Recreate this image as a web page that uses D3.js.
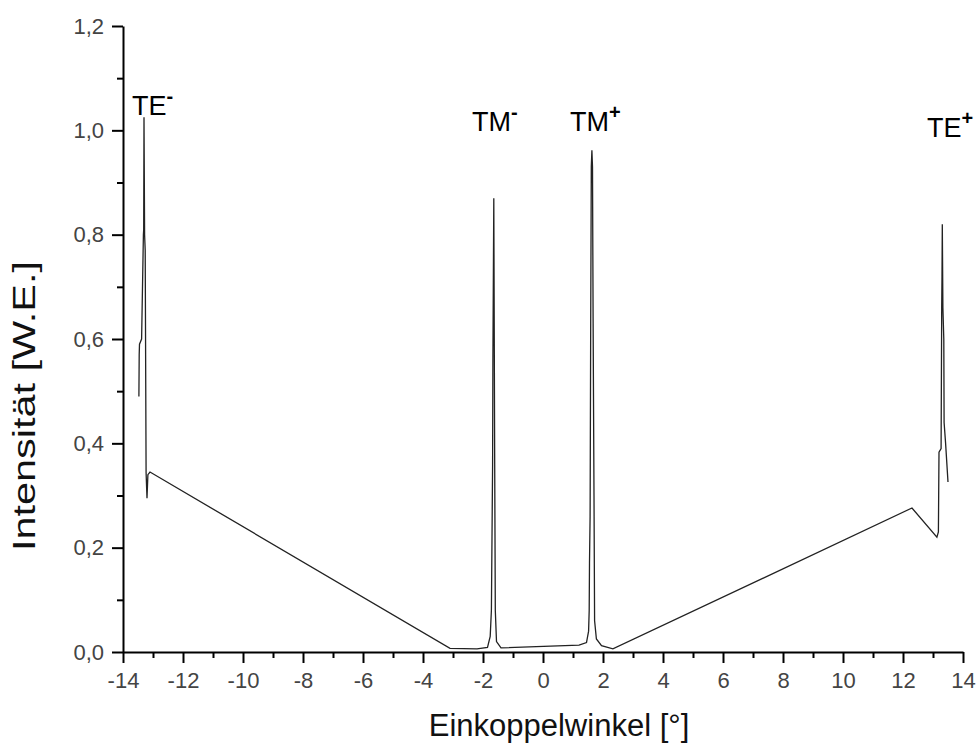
<!DOCTYPE html>
<html lang="de">
<meta charset="utf-8">
<head>
    <script src="https://d3js.org/d3.v7.min.js"></script>
    <style>
        body { margin: 0; background: #fff; }
        text { font-family: "Liberation Sans", Arial, sans-serif; }
    </style>
</head>
<body>
<div id="chart"></div>
<script>
// Einkoppelwinkel [deg] and Intensitaet [W.E.]
const angle = [
    -13.47, -13.46, -13.45, -13.38, -13.32, -13.31, -13.30, -13.28, -13.26, -13.23, -13.20, -13.17, -13.10,
    -3.1, -2.2, -1.85, -1.76, -1.72, -1.68, -1.67, -1.64, -1.61, -1.59, -1.55, -1.4,
    1.2, 1.45, 1.52, 1.54, 1.55, 1.57, 1.59, 1.61, 1.63, 1.65, 1.67, 1.70, 1.72, 1.78, 1.95, 2.33,
    12.3, 13.13, 13.18, 13.20, 13.27, 13.29, 13.30, 13.31, 13.33, 13.36, 13.37, 13.42, 13.50
];
const intensity = [
    0.49, 0.57, 0.59, 0.60, 0.80, 0.81, 1.025, 0.80, 0.77, 0.343, 0.295, 0.34, 0.345,
    0.007, 0.006, 0.009, 0.03, 0.08, 0.36, 0.56, 0.87, 0.36, 0.08, 0.02, 0.008,
    0.013, 0.018, 0.04, 0.08, 0.17, 0.26, 0.63, 0.93, 0.962, 0.93, 0.64, 0.30, 0.06, 0.025, 0.012, 0.006,
    0.276, 0.22, 0.23, 0.383, 0.39, 0.66, 0.72, 0.82, 0.66, 0.60, 0.44, 0.40, 0.326
];
const xTicks = [-14, -12, -10, -8, -6, -4, -2, 0, 2, 4, 6, 8, 10, 12, 14];
const yTicks = [0, 0.2, 0.4, 0.6, 0.8, 1.0, 1.2];
const peakNames = ["TE", "TM", "TM", "TE"];
const peakSigns = ["-", "-", "+", "+"];
const peakAngles = [-13.7, -2.37, 0.9, 12.8];
const peakLevels = [1.03, 0.999, 0.999, 0.987];

const data = angle.map((a, i) => ({ x: a, y: intensity[i] }));

const width = 976, height = 744;
const mLeft = 123, mRight = 963, mTop = 26, mBottom = 652;

const svg = d3.select("#chart").append("svg")
    .attr("width", width)
    .attr("height", height);

const x = d3.scaleLinear().domain([-14, 14]).range([mLeft, mRight]);
const y = d3.scaleLinear().domain([0, 1.2]).range([mBottom, mTop]);

const comma = d => d3.format(".1f")(d).replace(".", ",");

// minor ticks
svg.append("g")
    .attr("transform", `translate(0,${mBottom})`)
    .call(d3.axisBottom(x).tickValues(d3.range(-13, 14, 2)).tickSize(6).tickFormat(""))
    .call(g => g.select(".domain").remove());
svg.append("g")
    .attr("transform", `translate(${mLeft},0)`)
    .call(d3.axisLeft(y).tickValues([0.1, 0.3, 0.5, 0.7, 0.9, 1.1]).tickSize(6).tickFormat(""))
    .call(g => g.select(".domain").remove());

// main axes
const xAxis = svg.append("g")
    .attr("transform", `translate(0,${mBottom})`)
    .call(d3.axisBottom(x).tickValues(xTicks).tickSize(11).tickSizeOuter(0).tickPadding(9));
const yAxis = svg.append("g")
    .attr("transform", `translate(${mLeft},0)`)
    .call(d3.axisLeft(y).tickValues(yTicks).tickSize(11).tickSizeOuter(0).tickPadding(8).tickFormat(comma));

svg.selectAll(".tick line, .domain").attr("stroke", "#000").attr("stroke-width", 2);
svg.selectAll(".tick text")
    .attr("font-size", 22)
    .attr("font-family", "'Liberation Sans', Arial, sans-serif")
    .attr("fill", "#444");
xAxis.selectAll(".tick text").text(d => d < 0 ? "-" + Math.abs(d) : d);

// curve
svg.append("path")
    .datum(data)
    .attr("fill", "none")
    .attr("stroke", "#222")
    .attr("stroke-width", 1.3)
    .attr("d", d3.line().x(d => x(d.x)).y(d => y(d.y)));

// peak labels
peakNames.forEach((name, i) => {
    const t = svg.append("text")
        .attr("x", x(peakAngles[i]))
        .attr("y", y(peakLevels[i]))
        .attr("font-size", 27)
        .attr("fill", "#000")
        .text(name);
    t.append("tspan")
        .attr("dy", -12)
        .attr("font-size", 20)
        .attr("font-weight", "bold")
        .text(peakSigns[i]);
});

// axis titles
svg.append("text")
    .attr("x", 559)
    .attr("y", 736)
    .attr("text-anchor", "middle")
    .attr("font-size", 31)
    .attr("fill", "#111")
    .text("Einkoppelwinkel [°]");

svg.append("text")
    .attr("transform", "translate(35,406) rotate(-90)")
    .attr("text-anchor", "middle")
    .attr("font-size", 31)
    .attr("textLength", 290)
    .attr("lengthAdjust", "spacingAndGlyphs")
    .attr("fill", "#111")
    .text("Intensität [W.E.]");
</script>
</body>
</html>
